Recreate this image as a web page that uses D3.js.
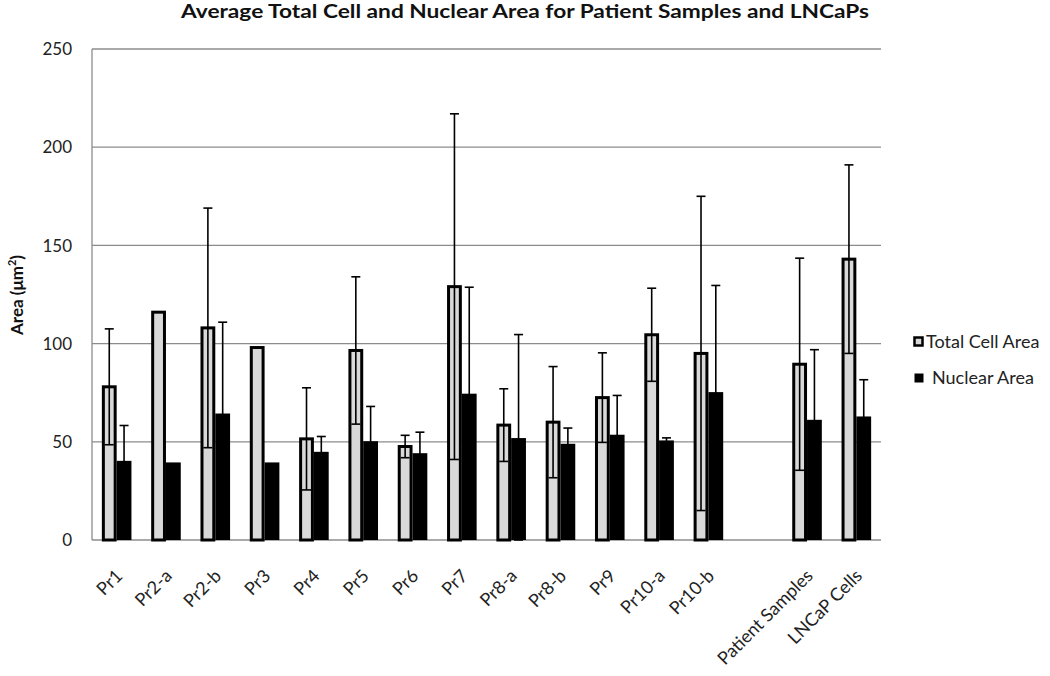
<!DOCTYPE html>
<html><head><meta charset="utf-8">
<script src="https://cdn.jsdelivr.net/npm/d3@7"></script>
<style>html,body{margin:0;padding:0;background:#fff;} svg{display:block;}</style>
</head><body>
<svg id="chart" width="1050" height="676"></svg>
<script>
const categories = ["Pr1","Pr2-a","Pr2-b","Pr3","Pr4","Pr5","Pr6","Pr7","Pr8-a","Pr8-b","Pr9","Pr10-a","Pr10-b","","Patient Samples","LNCaP Cells"];
const totalCellArea = [78,116,108,98,51.5,96.5,47.6,129,58.5,60,72.5,104.5,95,null,89.5,143];
const totalCellErr  = [29.5,null,61,null,26,37.5,5.7,88,18.5,28.3,22.8,23.7,80,null,54,48];
const nuclearArea   = [40.3,39.5,64.4,39.5,44.9,50.3,44.2,74.5,51.9,49,53.6,50.7,75.3,null,61.2,62.9];
const nuclearErr    = [18,null,46.5,null,7.8,17.7,10.7,54.2,52.7,8,20,1.3,54.3,null,35.7,18.7];
const seriesNames = ["Total Cell Area","Nuclear Area"];
const yTicks = [0,50,100,150,200,250];

const FONT = "Lato, 'Open Sans', sans-serif";
const svg = d3.select("#chart");
const L = 92, R = 881, T = 49, B = 540;

const x0 = d3.scaleBand().domain(categories).range([L, R]).paddingInner(0.4).paddingOuter(0.2);
const x1 = d3.scaleBand().domain(seriesNames).range([0, x0.bandwidth()]).padding(0);
const y = d3.scaleLinear().domain([0, 250]).range([B, T]);

// gridlines
svg.append("g").selectAll("line").data(yTicks.filter(d => d > 0)).join("line")
  .attr("x1", L).attr("x2", R).attr("y1", d => y(d)).attr("y2", d => y(d))
  .attr("stroke", "#8c8c8c").attr("stroke-width", 1.3);

// axes lines
svg.append("line").attr("x1", L).attr("x2", L).attr("y1", T).attr("y2", B).attr("stroke", "#8c8c8c").attr("stroke-width", 1.3);
svg.append("line").attr("x1", L).attr("x2", R).attr("y1", B).attr("y2", B).attr("stroke", "#8c8c8c").attr("stroke-width", 1.3);

// y tick labels
svg.append("g").selectAll("text").data(yTicks).join("text")
  .attr("x", 72).attr("y", d => y(d)).attr("dy", "0.36em")
  .attr("text-anchor", "end").attr("font-family", FONT).attr("font-size", 17).attr("fill", "#222")
  .text(d => d);

// y title
const yt = svg.append("text").attr("transform", "translate(23,295) rotate(-90)")
  .attr("text-anchor", "middle").attr("font-family", FONT).attr("font-size", 17).attr("font-weight", "bold").attr("fill", "#111");
yt.append("tspan").text("Area (μm");
yt.append("tspan").attr("font-size", 11).attr("dy", -7).text("2");
yt.append("tspan").attr("dy", 7).text(")");

// bars
const rows = categories.map((c, i) => ({c, t: totalCellArea[i], te: totalCellErr[i], n: nuclearArea[i], ne: nuclearErr[i]}));
const g = svg.append("g");
g.selectAll("rect.nuc").data(rows.filter(d => d.n != null)).join("rect")
  .attr("x", d => x0(d.c) + x1("Nuclear Area")).attr("width", x1.bandwidth())
  .attr("y", d => y(d.n)).attr("height", d => y(0) - y(d.n)).attr("fill", "#000");
g.selectAll("rect.tot").data(rows.filter(d => d.t != null)).join("rect")
  .attr("x", d => x0(d.c) + x1("Total Cell Area") + 1.5).attr("width", x1.bandwidth() - 3)
  .attr("y", d => y(d.t)).attr("height", d => y(0) - y(d.t))
  .attr("fill", "#d9d9d9").attr("stroke", "#000").attr("stroke-width", 3);

// error bars
function errBars(data, key, val, err) {
  const eg = svg.append("g").attr("stroke", "#000").attr("stroke-width", 1.6);
  data.filter(d => d[err] != null).forEach(d => {
    const cx = x0(d.c) + x1(key) + x1.bandwidth() / 2;
    const hi = y(d[val] + d[err]), lo = y(Math.max(0, d[val] - d[err]));
    eg.append("line").attr("x1", cx).attr("x2", cx).attr("y1", hi).attr("y2", lo);
    eg.append("line").attr("x1", cx - 4.5).attr("x2", cx + 4.5).attr("y1", hi).attr("y2", hi);
    eg.append("line").attr("x1", cx - 4.5).attr("x2", cx + 4.5).attr("y1", lo).attr("y2", lo);
  });
}
errBars(rows, "Total Cell Area", "t", "te");
errBars(rows, "Nuclear Area", "n", "ne");

// x labels
svg.append("g").selectAll("text").data(categories.filter(c => c !== "")).join("text")
  .attr("transform", d => `translate(${x0(d) + x0.bandwidth() / 2 + 7},577) rotate(-45)`)
  .attr("text-anchor", "end").attr("font-family", FONT).attr("font-size", 18).attr("fill", "#222")
  .text(d => d);

// title
svg.append("text").attr("x", 525).attr("y", 18).attr("text-anchor", "middle")
  .attr("font-family", FONT).attr("font-size", 19).attr("font-weight", "bold").attr("fill", "#111")
  .attr("textLength", 688).attr("lengthAdjust", "spacingAndGlyphs")
  .text("Average Total Cell and Nuclear Area for Patient Samples and LNCaPs");

// legend
const lg = svg.append("g");
const legY = [342, 378];
seriesNames.forEach((s, i) => {
  if (i === 0) {
    lg.append("rect").attr("x", 914.5).attr("y", legY[i] - 4.5).attr("width", 8).attr("height", 8)
      .attr("fill", "#d9d9d9").attr("stroke", "#000").attr("stroke-width", 2.5);
  } else {
    lg.append("rect").attr("x", 914.5).attr("y", legY[i] - 4.5).attr("width", 9).attr("height", 9).attr("fill", "#000");
  }
  lg.append("text").attr("x", i === 0 ? 926 : 932).attr("y", legY[i]).attr("dy", "0.36em")
    .attr("font-family", FONT).attr("font-size", 18).attr("fill", "#222").text(s);
});
</script>
</body></html>
